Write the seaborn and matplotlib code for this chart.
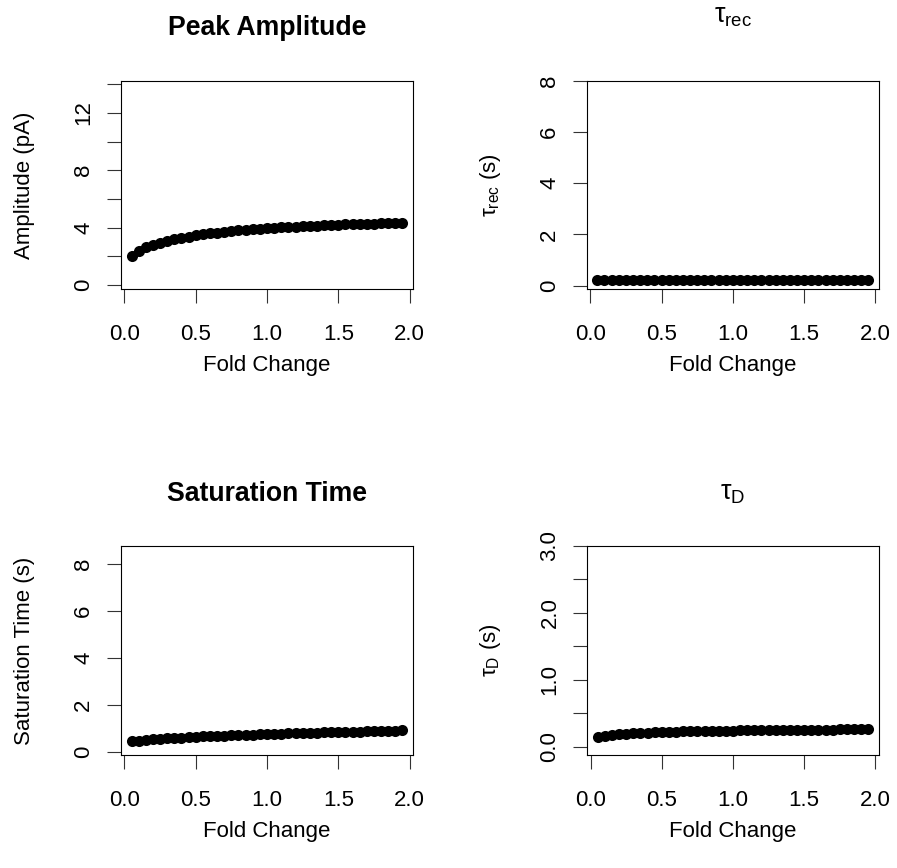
import matplotlib
matplotlib.use("Agg")
import matplotlib.pyplot as plt
import seaborn as sns
import pandas as pd
from matplotlib.ticker import FixedLocator, FixedFormatter

# ---------------- data ----------------
fold_change = [0.05, 0.10, 0.15, 0.20, 0.25, 0.30, 0.35, 0.40, 0.45, 0.50,
               0.55, 0.60, 0.65, 0.70, 0.75, 0.80, 0.85, 0.90, 0.95, 1.00,
               1.05, 1.10, 1.15, 1.20, 1.25, 1.30, 1.35, 1.40, 1.45, 1.50,
               1.55, 1.60, 1.65, 1.70, 1.75, 1.80, 1.85, 1.90, 1.95]

peak_amplitude = [2.05, 2.38, 2.62, 2.80, 2.95, 3.08, 3.19, 3.29, 3.38, 3.46,
                  3.53, 3.60, 3.66, 3.71, 3.76, 3.81, 3.85, 3.89, 3.93, 3.96,
                  3.99, 4.02, 4.05, 4.08, 4.10, 4.12, 4.14, 4.16, 4.18, 4.20,
                  4.22, 4.23, 4.25, 4.26, 4.28, 4.29, 4.30, 4.31, 4.33]

tau_rec = [0.22, 0.22, 0.22, 0.22, 0.22, 0.22, 0.22, 0.22, 0.22, 0.22,
           0.22, 0.22, 0.22, 0.22, 0.22, 0.22, 0.22, 0.22, 0.22, 0.22,
           0.22, 0.22, 0.22, 0.22, 0.22, 0.22, 0.22, 0.22, 0.22, 0.22,
           0.22, 0.22, 0.22, 0.22, 0.22, 0.22, 0.22, 0.22, 0.22]

saturation_time = [0.47, 0.50, 0.53, 0.55, 0.57, 0.59, 0.61, 0.62, 0.64, 0.65,
                   0.67, 0.68, 0.69, 0.70, 0.72, 0.73, 0.74, 0.75, 0.76, 0.77,
                   0.78, 0.79, 0.80, 0.81, 0.82, 0.83, 0.83, 0.84, 0.85, 0.86,
                   0.87, 0.88, 0.88, 0.89, 0.90, 0.91, 0.92, 0.92, 0.93]

tau_d = [0.140, 0.160, 0.175, 0.185, 0.195, 0.200, 0.205, 0.210, 0.215, 0.220,
         0.222, 0.225, 0.228, 0.230, 0.232, 0.234, 0.236, 0.238, 0.240, 0.242,
         0.243, 0.244, 0.246, 0.247, 0.248, 0.249, 0.250, 0.251, 0.252, 0.253,
         0.254, 0.255, 0.256, 0.257, 0.258, 0.259, 0.260, 0.261, 0.262]

x_ticks = [0.0, 0.5, 1.0, 1.5, 2.0]
x_tick_labels = ["0.0", "0.5", "1.0", "1.5", "2.0"]

amp_ticks = [0, 2, 4, 6, 8, 10, 12, 14]
amp_tick_labels = ["0", "", "4", "", "8", "", "12", ""]
tau_rec_ticks = [0, 2, 4, 6, 8]
tau_rec_tick_labels = ["0", "2", "4", "6", "8"]
sat_ticks = [0, 2, 4, 6, 8]
sat_tick_labels = ["0", "2", "4", "6", "8"]
tau_d_ticks = [0.0, 0.5, 1.0, 1.5, 2.0, 2.5, 3.0]
tau_d_tick_labels = ["0.0", "", "1.0", "", "2.0", "", "3.0"]

titles = ["Peak Amplitude", r"$\mathrm{\tau_{rec}}$", "Saturation Time", r"$\mathrm{\tau_{D}}$"]
y_labels = ["Amplitude (pA)", r"$\mathrm{\tau_{rec}}$ (s)", "Saturation Time (s)", r"$\mathrm{\tau_{D}}$ (s)"]
x_label = "Fold Change"

# ---------------- style ----------------
sns.set_style("ticks")
plt.rcParams["font.family"] = ["Liberation Sans", "DejaVu Sans"]
plt.rcParams["mathtext.fontset"] = "custom"
plt.rcParams["mathtext.rm"] = "Liberation Sans"
plt.rcParams["mathtext.it"] = "Liberation Sans:italic"
plt.rcParams["mathtext.bf"] = "Liberation Sans:bold"
plt.rcParams["text.color"] = "black"
plt.rcParams["axes.labelcolor"] = "black"

W, H = 897, 868
fig = plt.figure(figsize=(W / 100, H / 100), dpi=100)
fig.patch.set_facecolor("white")

# panel boxes in pixels: left, top, right, bottom  (order: A, B, C, D)
boxes = [(120.7, 80.7, 413.3, 289.0),
         (586.5, 80.7, 879.2, 289.0),
         (120.7, 546.0, 413.3, 755.0),
         (586.8, 546.0, 879.2, 755.0)]
ylims = [(-0.279, 14.25), (-0.129, 8.0), (-0.115, 8.75), (-0.124, 3.0)]
series = [peak_amplitude, tau_rec, saturation_time, tau_d]
yticks = [(amp_ticks, amp_tick_labels), (tau_rec_ticks, tau_rec_tick_labels),
          (sat_ticks, sat_tick_labels), (tau_d_ticks, tau_d_tick_labels)]
title_bold = [True, False, True, False]
title_y_px = [28, 16, 494, 493]
xlabel_y_px = [365, 365, 832, 832]
ylabel_x_px = [25, 490, 25, 490]

for i, (l, t, r, b) in enumerate(boxes):
    ax = fig.add_axes([l / W, 1 - b / H, (r - l) / W, (b - t) / H])
    df = pd.DataFrame({"x": fold_change, "y": series[i]})
    sns.scatterplot(data=df, x="x", y="y", ax=ax, color="black", s=64,
                    linewidth=0, zorder=3)
    ax.set_xlim(-0.026, 2.026)
    ax.set_ylim(*ylims[i])
    ax.xaxis.set_major_locator(FixedLocator(x_ticks))
    ax.xaxis.set_major_formatter(FixedFormatter(x_tick_labels))
    ax.yaxis.set_major_locator(FixedLocator(yticks[i][0]))
    ax.yaxis.set_major_formatter(FixedFormatter(yticks[i][1]))
    for sp in ax.spines.values():
        sp.set_visible(True)
        sp.set_linewidth(0.8)
        sp.set_color("black")
    ax.tick_params(axis="both", direction="out", length=10, width=0.8,
                   colors="#333333", labelcolor="black", labelsize=16)
    ax.tick_params(axis="x", pad=15)
    ax.tick_params(axis="y", pad=9, labelrotation=90)
    for lab in ax.get_yticklabels():
        lab.set_va("center")
    h = b - t
    w = r - l
    ax.set_xlabel(x_label, fontsize=16, color="black")
    ax.xaxis.label.set_va("center")
    ax.xaxis.set_label_coords(0.5, -(xlabel_y_px[i] - b) / h)
    ax.set_ylabel(y_labels[i], fontsize=16, color="black")
    ax.yaxis.label.set_va("center")
    ax.yaxis.set_label_coords(-(l - ylabel_x_px[i]) / w, 0.5)
    ax.set_title(titles[i], fontsize=19.2, color="black",
                 fontweight="bold" if title_bold[i] else "normal",
                 y=(b - title_y_px[i]) / h, va="center", pad=0)

fig.savefig("out.png", dpi=100, facecolor="white")
